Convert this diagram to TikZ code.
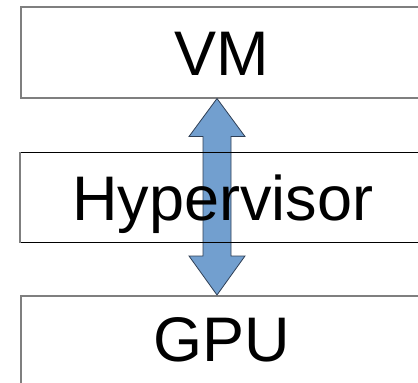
\documentclass[tikz,border=0pt]{standalone}
\usepackage{fontspec}
\setmainfont{Liberation Sans}
\usetikzlibrary{calc}
\definecolor{arrowblue}{HTML}{729FCF}
\definecolor{arrowline}{HTML}{2F3F55}
\definecolor{boxgrey}{HTML}{7F7F7F}
\tikzset{
  layerbox/.style={draw=boxgrey, line width=1.5pt, fill=white, rectangle,
    minimum width=430pt, inner sep=0pt, anchor=north west},
  corebox/.style={draw=black, line width=0.9pt, rectangle,
    minimum width=430pt, inner sep=0pt, anchor=north west},
  layertext/.style={anchor=base, inner sep=0pt,
    font=\fontsize{63}{63}\selectfont},
  bigarrow/.style={draw=arrowline, line width=0.8pt, fill=arrowblue, line join=miter}
}
\begin{document}
\begin{tikzpicture}[x=1pt,y=-1pt]
\useasboundingbox (0,0) rectangle (418,383);
\clip (0,0) rectangle (418,383);
% outer layers
\node[layerbox, minimum height=91pt] (vm) at (20,6) {};
\node[layerbox, minimum height=100pt] (gpu) at (20,295) {};
\node[layertext] (vmtext) at (222,75) {VM};
\node[layertext] (gputext) at (222,361) {GPU};
% double-headed block arrow between VM and GPU
\path (vm.south west) ++(197,0) coordinate (up);
\path (gpu.north west) ++(197,0) coordinate (dn);
\draw[bigarrow] (up) -- ++(28,38) -- ++(-14,0) -- ($(dn)+(14,-39)$) -- ++(14,0)
  -- (dn) -- ++(-28,-39) -- ++(14,0) -- ($(up)+(-14,38)$) -- ++(-14,0) -- cycle;
% hypervisor layer drawn over the arrow
\node[corebox, minimum height=90pt] (hv) at (20,152) {};
\draw[boxgrey, line width=1.2pt] (hv.north west) -- (hv.south west);
\node[layertext] (hvtext) at (223,220) {Hypervisor};
\end{tikzpicture}
\end{document}
